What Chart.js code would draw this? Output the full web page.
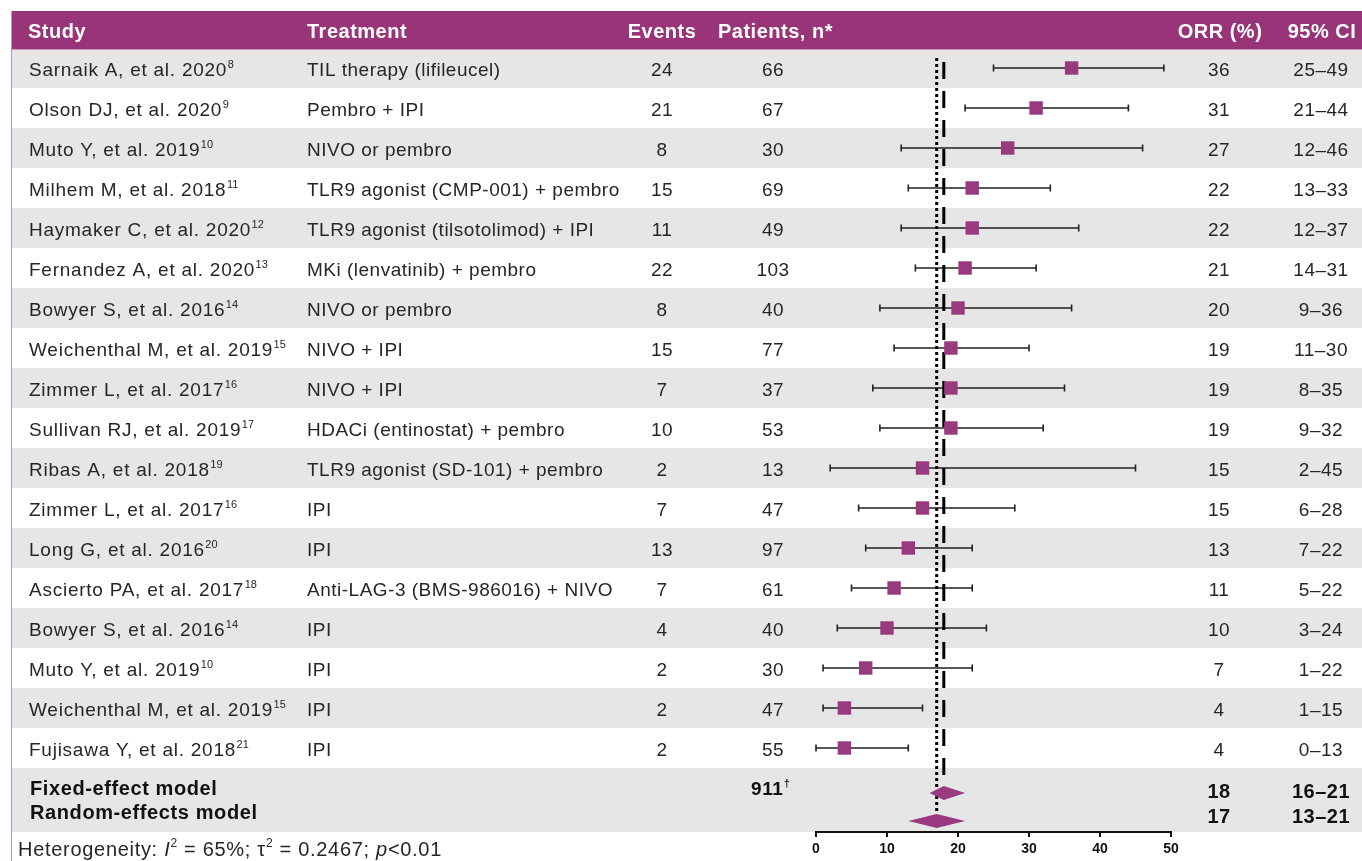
<!DOCTYPE html>
<html>
<head>
<meta charset="utf-8">
<title>Forest plot – ORR</title>
<script src="https://cdn.jsdelivr.net/npm/chart.js@4.4.0/dist/chart.umd.min.js"></script>
<style>
  html, body { margin: 0; padding: 0; background: #fff; }
  #wrap { width: 1362px; height: 861px; position: relative; }
</style>
</head>
<body>
<div id="wrap"><canvas id="forest"></canvas></div>
<script>
// ---- study-level data ----
const studies = [
  "Sarnaik A, et al. 2020", "Olson DJ, et al. 2020", "Muto Y, et al. 2019",
  "Milhem M, et al. 2018", "Haymaker C, et al. 2020", "Fernandez A, et al. 2020",
  "Bowyer S, et al. 2016", "Weichenthal M, et al. 2019", "Zimmer L, et al. 2017",
  "Sullivan RJ, et al. 2019", "Ribas A, et al. 2018", "Zimmer L, et al. 2017",
  "Long G, et al. 2016", "Ascierto PA, et al. 2017", "Bowyer S, et al. 2016",
  "Muto Y, et al. 2019", "Weichenthal M, et al. 2019", "Fujisawa Y, et al. 2018"
];
const refs = ["8", "9", "10", "11", "12", "13", "14", "15", "16", "17", "19", "16", "20", "18", "14", "10", "15", "21"];
const treatments = [
  "TIL therapy (lifileucel)", "Pembro + IPI", "NIVO or pembro",
  "TLR9 agonist (CMP-001) + pembro", "TLR9 agonist (tilsotolimod) + IPI", "MKi (lenvatinib) + pembro",
  "NIVO or pembro", "NIVO + IPI", "NIVO + IPI",
  "HDACi (entinostat) + pembro", "TLR9 agonist (SD-101) + pembro", "IPI",
  "IPI", "Anti-LAG-3 (BMS-986016) + NIVO", "IPI",
  "IPI", "IPI", "IPI"
];
const events   = [24, 21, 8, 15, 11, 22, 8, 15, 7, 10, 2, 7, 13, 7, 4, 2, 2, 2];
const patients = [66, 67, 30, 69, 49, 103, 40, 77, 37, 53, 13, 47, 97, 61, 40, 30, 47, 55];
const orr      = [36, 31, 27, 22, 22, 21, 20, 19, 19, 19, 15, 15, 13, 11, 10, 7, 4, 4];
const ciLow    = [25, 21, 12, 13, 12, 14, 9, 11, 8, 9, 2, 6, 7, 5, 3, 1, 1, 0];
const ciHigh   = [49, 44, 46, 33, 37, 31, 36, 30, 35, 32, 45, 28, 22, 22, 24, 22, 15, 13];

// ---- pooled estimates ----
const pooledLabels = ["Fixed-effect model", "Random-effects model"];
const pooledOrr    = [18, 17];
const pooledLow    = [16, 13];
const pooledHigh   = [21, 21];
const totalPatients = "911";

// ---- axis ----
const xTicks = [0, 10, 20, 30, 40, 50];
const columnHeads = ["Study", "Treatment", "Events", "Patients, n*", "ORR (%)", "95% CI"];

// ---- styling ----
const FONT = "'Liberation Sans', Arial, Helvetica, sans-serif";
const PURPLE = '#993478';
const MARK = '#993a80';
const GREY = '#e6e6e6';
const INK = '#262626';

// vertical slots (in y-scale units) for the pooled block
const pooledTextRow  = [18.0, 18.6];
const pooledValueRow = [18.075, 18.7];
const pooledShapeRow = [18.125, 18.825];

function setFont(ctx, size, weight, style) {
  ctx.font = `${style || 'normal'} ${weight || 'normal'} ${size}px ${FONT}`;
}

// draws a string with optional superscript; align: 'left' | 'center'
function drawText(ctx, str, x, cy, opts) {
  const size = opts.size || 19;
  const weight = opts.weight || 'normal';
  ctx.fillStyle = opts.color || INK;
  ctx.letterSpacing = (opts.ls != null ? opts.ls : 0.5) + 'px';
  setFont(ctx, size, weight);
  const w = ctx.measureText(str).width;
  let supW = 0;
  if (opts.sup) {
    setFont(ctx, Math.round(size * 0.6), weight);
    supW = ctx.measureText(opts.sup).width + 1;
  }
  let left = x;
  if (opts.align === 'center') left = x - (w + supW) / 2;
  const base = cy + size * 0.36;
  ctx.textAlign = 'left';
  ctx.textBaseline = 'alphabetic';
  setFont(ctx, size, weight);
  ctx.fillText(str, left, base);
  if (opts.sup) {
    ctx.letterSpacing = '0px';
    setFont(ctx, Math.round(size * 0.6), weight);
    ctx.fillText(opts.sup, left + w + 0.5, base - size * 0.42);
  }
  ctx.letterSpacing = '0px';
}

const forestTable = {
  id: 'forestTable',
  beforeDraw(chart) {
    const { ctx, width, height, chartArea, scales: { y } } = chart;
    ctx.save();
    ctx.fillStyle = '#fff';
    ctx.fillRect(0, 0, width, height);
    // alternating row bands
    ctx.fillStyle = GREY;
    studies.forEach((s, i) => {
      if (i % 2 === 0) {
        const t = y.getPixelForValue(i - 0.5);
        const b = y.getPixelForValue(i + 0.5);
        ctx.fillRect(12, t, width - 12, b - t);
      }
    });
    // pooled block band
    const pt = y.getPixelForValue(studies.length - 0.5);
    ctx.fillRect(12, pt, width - 12, chartArea.bottom - pt);
    // header bar
    ctx.fillStyle = PURPLE;
    ctx.fillRect(11, 11, width - 11, 38);
    ctx.fillStyle = '#c995b8';
    ctx.fillRect(11, 49, width - 11, 1);
    // left rule
    ctx.fillStyle = '#c68fb3';
    ctx.fillRect(11, 11, 1, height - 11);
    ctx.restore();
  },
  beforeDatasetsDraw(chart) {
    const { ctx, scales: { x, y } } = chart;
    ctx.save();
    // confidence-interval whiskers
    ctx.strokeStyle = '#222';
    ctx.lineWidth = 1.6;
    studies.forEach((s, i) => {
      const yy = y.getPixelForValue(i);
      const x1 = x.getPixelForValue(ciLow[i]);
      const x2 = x.getPixelForValue(ciHigh[i]);
      ctx.beginPath();
      ctx.moveTo(x1, yy); ctx.lineTo(x2, yy);
      ctx.moveTo(x1, yy - 3.5); ctx.lineTo(x1, yy + 3.5);
      ctx.moveTo(x2, yy - 3.5); ctx.lineTo(x2, yy + 3.5);
      ctx.stroke();
    });
    // reference lines for the pooled estimates
    const halfH = 7;
    const fx = x.getPixelForValue(pooledOrr[0]);
    const rx = x.getPixelForValue(pooledOrr[1]);
    const fTop = y.getPixelForValue(pooledShapeRow[0]) - halfH;
    const rTop = y.getPixelForValue(pooledShapeRow[1]) - halfH;
    ctx.strokeStyle = '#000';
    ctx.lineWidth = 3;
    ctx.setLineDash([17, 12]);
    ctx.beginPath(); ctx.moveTo(fx, 62); ctx.lineTo(fx, fTop); ctx.stroke();
    ctx.setLineDash([3, 3]);
    ctx.beginPath(); ctx.moveTo(rx, 58); ctx.lineTo(rx, rTop); ctx.stroke();
    ctx.setLineDash([]);
    // pooled diamonds
    ctx.fillStyle = MARK;
    pooledOrr.forEach((v, k) => {
      const cy = y.getPixelForValue(pooledShapeRow[k]);
      const cx = x.getPixelForValue(v);
      const lx = x.getPixelForValue(pooledLow[k]);
      const hx = x.getPixelForValue(pooledHigh[k]);
      ctx.beginPath();
      ctx.moveTo(lx, cy); ctx.lineTo(cx, cy - halfH);
      ctx.lineTo(hx, cy); ctx.lineTo(cx, cy + halfH);
      ctx.closePath(); ctx.fill();
    });
    ctx.restore();
  },
  afterDraw(chart) {
    const { ctx, scales: { y } } = chart;
    ctx.save();
    // column heads
    const head = { size: 20, weight: 'bold', color: '#fff' };
    drawText(ctx, columnHeads[0], 28, 31, head);
    drawText(ctx, columnHeads[1], 307, 31, head);
    drawText(ctx, columnHeads[2], 662, 31, { ...head, align: 'center' });
    drawText(ctx, columnHeads[3], 718, 31, head);
    drawText(ctx, columnHeads[4], 1220, 31, { ...head, align: 'center' });
    drawText(ctx, columnHeads[5], 1322, 31, { ...head, align: 'center' });
    // study rows
    studies.forEach((s, i) => {
      const cy = y.getPixelForValue(i) + 1;
      drawText(ctx, s, 29, cy, { sup: refs[i], ls: 0.75 });
      drawText(ctx, treatments[i], 307, cy, {});
      drawText(ctx, String(events[i]), 662, cy, { align: 'center' });
      drawText(ctx, String(patients[i]), 773, cy, { align: 'center' });
      drawText(ctx, String(orr[i]), 1219, cy, { align: 'center' });
      drawText(ctx, ciLow[i] + '\u2013' + ciHigh[i], 1321, cy, { align: 'center' });
    });
    // pooled rows
    const bold = { weight: 'bold', color: '#111', size: 20 };
    pooledLabels.forEach((lab, k) => {
      drawText(ctx, lab, 30, y.getPixelForValue(pooledTextRow[k]), { ...bold, ls: 0.6 });
      const vy = y.getPixelForValue(pooledValueRow[k]);
      drawText(ctx, String(pooledOrr[k]), 1219, vy, { ...bold, align: 'center' });
      drawText(ctx, pooledLow[k] + '\u2013' + pooledHigh[k], 1321, vy, { ...bold, align: 'center' });
    });
    drawText(ctx, totalPatients, 771, y.getPixelForValue(pooledTextRow[0]), { ...bold, size: 19, align: 'center', sup: '\u2020' });
    // heterogeneity note
    const parts = [
      ['Heterogeneity: ', 'normal', false], ['I', 'italic', false], ['2', 'normal', true],
      [' = 65%; \u03c4', 'normal', false], ['2', 'normal', true],
      [' = 0.2467; ', 'normal', false], ['p', 'italic', false], ['<0.01', 'normal', false]
    ];
    let px = 18;
    const base = 856;
    ctx.fillStyle = INK;
    ctx.textAlign = 'left';
    ctx.textBaseline = 'alphabetic';
    ctx.letterSpacing = '0.7px';
    parts.forEach(([t, style, sup]) => {
      if (sup) {
        setFont(ctx, 12, 'normal', 'normal');
        ctx.fillText(t, px, base - 9);
      } else {
        setFont(ctx, 20, 'normal', style);
        ctx.fillText(t, px, base);
      }
      px += ctx.measureText(t).width;
    });
    ctx.letterSpacing = '0px';
    ctx.restore();
  }
};

new Chart(document.getElementById('forest'), {
  type: 'scatter',
  data: {
    datasets: [{
      label: 'ORR (%)',
      data: orr.map((v, i) => ({ x: v, y: i })),
      pointStyle: 'rect',
      pointRadius: 9.5,
      pointHoverRadius: 9.5,
      backgroundColor: MARK,
      borderWidth: 0,
      showLine: false
    }]
  },
  options: {
    responsive: true,
    maintainAspectRatio: false,
    animation: false,
    events: [],
    layout: { padding: { left: 816, right: 191, top: 48, bottom: 0 } },
    plugins: {
      legend: { display: false },
      tooltip: { enabled: false }
    },
    scales: {
      x: {
        type: 'linear',
        min: 0,
        max: 50,
        afterBuildTicks: (s) => { s.ticks = xTicks.map(v => ({ value: v })); },
        afterFit: (s) => { s.height = 29; },
        ticks: {
          font: { family: FONT, size: 14, weight: 'bold' },
          color: '#111',
          padding: 4,
          maxRotation: 0
        },
        grid: { drawOnChartArea: false, drawTicks: true, tickLength: 5, color: '#111', lineWidth: 2 },
        border: { display: true, color: '#111', width: 2 }
      },
      y: {
        type: 'linear',
        min: -0.5,
        max: 19.1,
        reverse: true,
        display: false
      }
    }
  },
  plugins: [forestTable]
});
</script>
</body>
</html>
